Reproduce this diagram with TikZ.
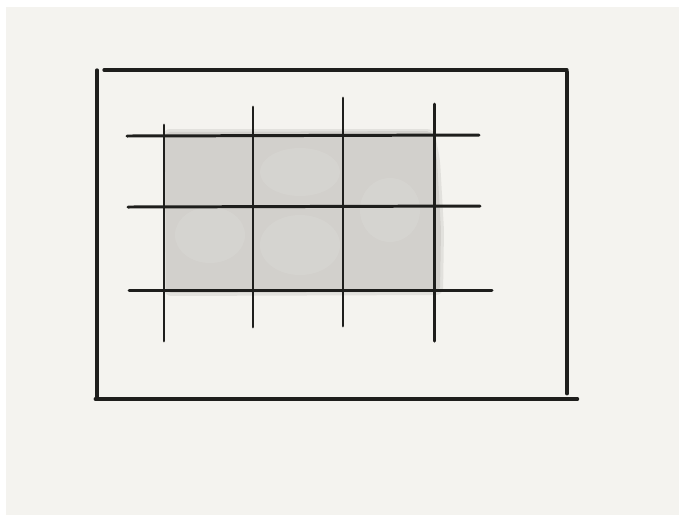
\documentclass[tikz,border=0pt]{standalone}
\usetikzlibrary{calc}

\definecolor{paper}{RGB}{244,243,239}
\definecolor{wash}{RGB}{210,208,204}
\definecolor{washlight}{RGB}{221,220,216}
\definecolor{ink}{RGB}{30,30,28}

\begin{document}
\begin{tikzpicture}[x=0.02cm, y=-0.02cm, line cap=round]

% Canvas and paper
\useasboundingbox (0,0) rectangle (679,515);
\fill[white] (0,0) rectangle (679,515);
\fill[paper] (6,7) rectangle (679,515);

% Define the corners of the outer frame
\coordinate (TL) at (97,70);
\coordinate (TR) at (567,70);
\coordinate (BR) at (567,399);
\coordinate (BL) at (97,399);

% Grey wash behind the grid
\fill[wash, opacity=0.5, rounded corners=4] (163,129) -- (434,129) -- (440,160) -- (444,230) -- (443,295) -- (164,296) -- cycle;
\fill[wash, rounded corners=3] (165,132) -- (432,131) -- (437,160) -- (441,230) -- (440,292) -- (166,293) -- cycle;
\fill[washlight, opacity=0.35] (300,172) ellipse (40 and 24);
\fill[washlight, opacity=0.35] (210,235) ellipse (35 and 28);
\fill[washlight, opacity=0.35] (300,245) ellipse (40 and 30);
\fill[washlight, opacity=0.35] (390,210) ellipse (30 and 32);

% Draw the outer frame with slightly overshooting strokes
\draw[ink, line width=1.9pt] ([xshift=4]TL) -- (TR);
\draw[ink, line width=1.9pt] (TL) -- (BL);
\draw[ink, line width=1.9pt] ([xshift=-1]BL) -- ([xshift=6]BR);
\draw[ink, line width=1.9pt] ([yshift=-1]TR) -- ([yshift=3]BR);

% Horizontal grid strokes
\draw[ink, line width=1.7pt] (127,136) -- (479,135);
\draw[ink, line width=1.7pt] (128,207) -- (480,206);
\draw[ink, line width=1.7pt] (129,290) -- (492,290);

% Vertical grid strokes
\draw[ink, line width=1.7pt] (164,125) -- (164,341);
\draw[ink, line width=1.7pt] (253,107) -- (253,327);
\draw[ink, line width=1.7pt] (343,98) -- (343,326);
\draw[ink, line width=1.7pt] (434,104) -- (434,341);

\end{tikzpicture}
\end{document}
